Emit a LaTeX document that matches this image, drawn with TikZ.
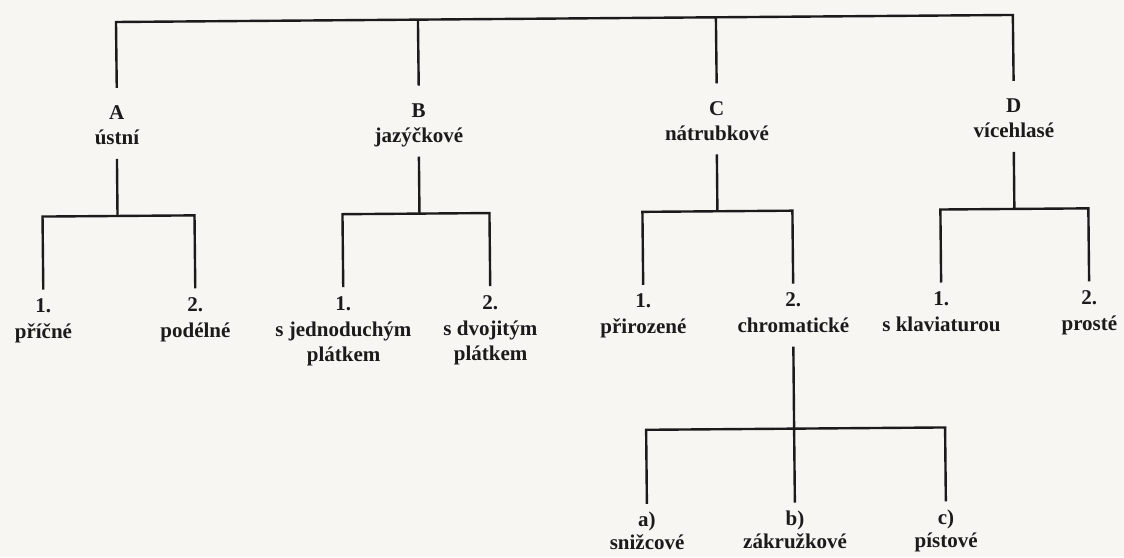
\documentclass[tikz,border=0pt]{standalone}
\usepackage{fontspec}
\setmainfont{Liberation Serif}
\definecolor{ink}{RGB}{28,26,26}
\definecolor{paper}{RGB}{248,246,243}
\begin{document}
\begin{tikzpicture}[x=1pt,y=-1pt,
  wire/.style={draw=ink,line width=2.4pt},
  lbl/.style={font=\bfseries\fontsize{21}{25}\selectfont,text=ink,inner sep=0pt,
              anchor=base,text height=14pt,text depth=4pt},
  head/.style={lbl,outer ysep=18pt},
  kind/.style={lbl,outer ysep=10pt},
  num/.style={lbl,outer ysep=9pt},
  sub/.style={lbl,outer ysep=10pt}]
\fill[paper] (0,0) rectangle (1124,557);
\useasboundingbox (0,0) rectangle (1124,557);
\begin{scope}[rotate around={0.45:(116,22)}]
  % main groups
  \node[head] (hA) at (116,120) {A};
  \node[kind] (kA) at (116,145) {ústní};
  \node[head] (hB) at (418,120) {B};
  \node[kind] (kB) at (418,145) {jazýčkové};
  \node[head] (hC) at (716,120) {C};
  \node[kind] (kC) at (716,145) {nátrubkové};
  \node[head] (hD) at (1013,120) {D};
  \node[kind] (kD) at (1013,145) {vícehlasé};
  % top bar
  \coordinate (t1) at (116,22);
  \coordinate (t2) at (418,22);
  \coordinate (t3) at (716,22);
  \coordinate (t4) at (1013,22);
  \draw[wire] (hA.north) -- (t1) -- (t4) -- (hD.north);
  \draw[wire] (hB.north) -- (t2);
  \draw[wire] (hC.north) -- (t3);

  % subgroups
  \node[num] (nA1) at (41,312) {1.};
  \node[lbl] (wA1) at (41,338) {příčné};
  \node[num] (nA2) at (193,312) {2.};
  \node[lbl] (wA2) at (193,338) {podélné};

  \node[num] (nB1) at (341,312) {1.};
  \node[lbl] (wB1) at (341,338) {s jednoduchým};
  \node[lbl] (pB1) at (341,363) {plátkem};
  \node[num] (nB2) at (488,312) {2.};
  \node[lbl] (wB2) at (488,338) {s dvojitým};
  \node[lbl] (pB2) at (488,363) {plátkem};

  \node[num] (nC1) at (641,312) {1.};
  \node[lbl] (wC1) at (641,338) {přirozené};
  \node[num] (nC2) at (791,312) {2.};
  \node[sub] (wC2) at (791,338) {chromatické};

  \node[num] (nD1) at (939,312) {1.};
  \node[lbl] (wD1) at (939,338) {s klaviaturou};
  \node[num] (nD2) at (1087,312) {2.};
  \node[lbl] (wD2) at (1087,338) {prosté};

  % second-level bars
  \coordinate (jA) at (116,216); \coordinate (jA1) at (41,216); \coordinate (jA2) at (193,216);
  \coordinate (jB) at (418,216); \coordinate (jB1) at (341,216); \coordinate (jB2) at (488,216);
  \coordinate (jC) at (716,216); \coordinate (jC1) at (641,216); \coordinate (jC2) at (791,216);
  \coordinate (jD) at (1013,216); \coordinate (jD1) at (939,216); \coordinate (jD2) at (1087,216);
  \draw[wire] (kA.south) -- (jA);
  \draw[wire] (nA1.north) -- (jA1) -- (jA2) -- (nA2.north);
  \draw[wire] (kB.south) -- (jB);
  \draw[wire] (nB1.north) -- (jB1) -- (jB2) -- (nB2.north);
  \draw[wire] (kC.south) -- (jC);
  \draw[wire] (nC1.north) -- (jC1) -- (jC2) -- (nC2.north);
  \draw[wire] (kD.south) -- (jD);
  \draw[wire] (nD1.north) -- (jD1) -- (jD2) -- (nD2.north);

  % chromatic instruments
  \node[num] (nCa) at (643,531) {a)};
  \node[lbl] (wCa) at (643,554) {snižcové};
  \node[num] (nCb) at (791,531) {b)};
  \node[lbl] (wCb) at (791,554) {zákružkové};
  \node[num] (nCc) at (942,531) {c)};
  \node[lbl] (wCc) at (942,554) {pístové};
  \coordinate (j3) at (791,434); \coordinate (j31) at (643,434); \coordinate (j33) at (942,434);
  \draw[wire] (wC2.south) -- (j3);
  \draw[wire] (nCa.north) -- (j31) -- (j33) -- (nCc.north);
  \draw[wire] (nCb.north) -- (j3);
\end{scope}
\end{tikzpicture}
\end{document}
